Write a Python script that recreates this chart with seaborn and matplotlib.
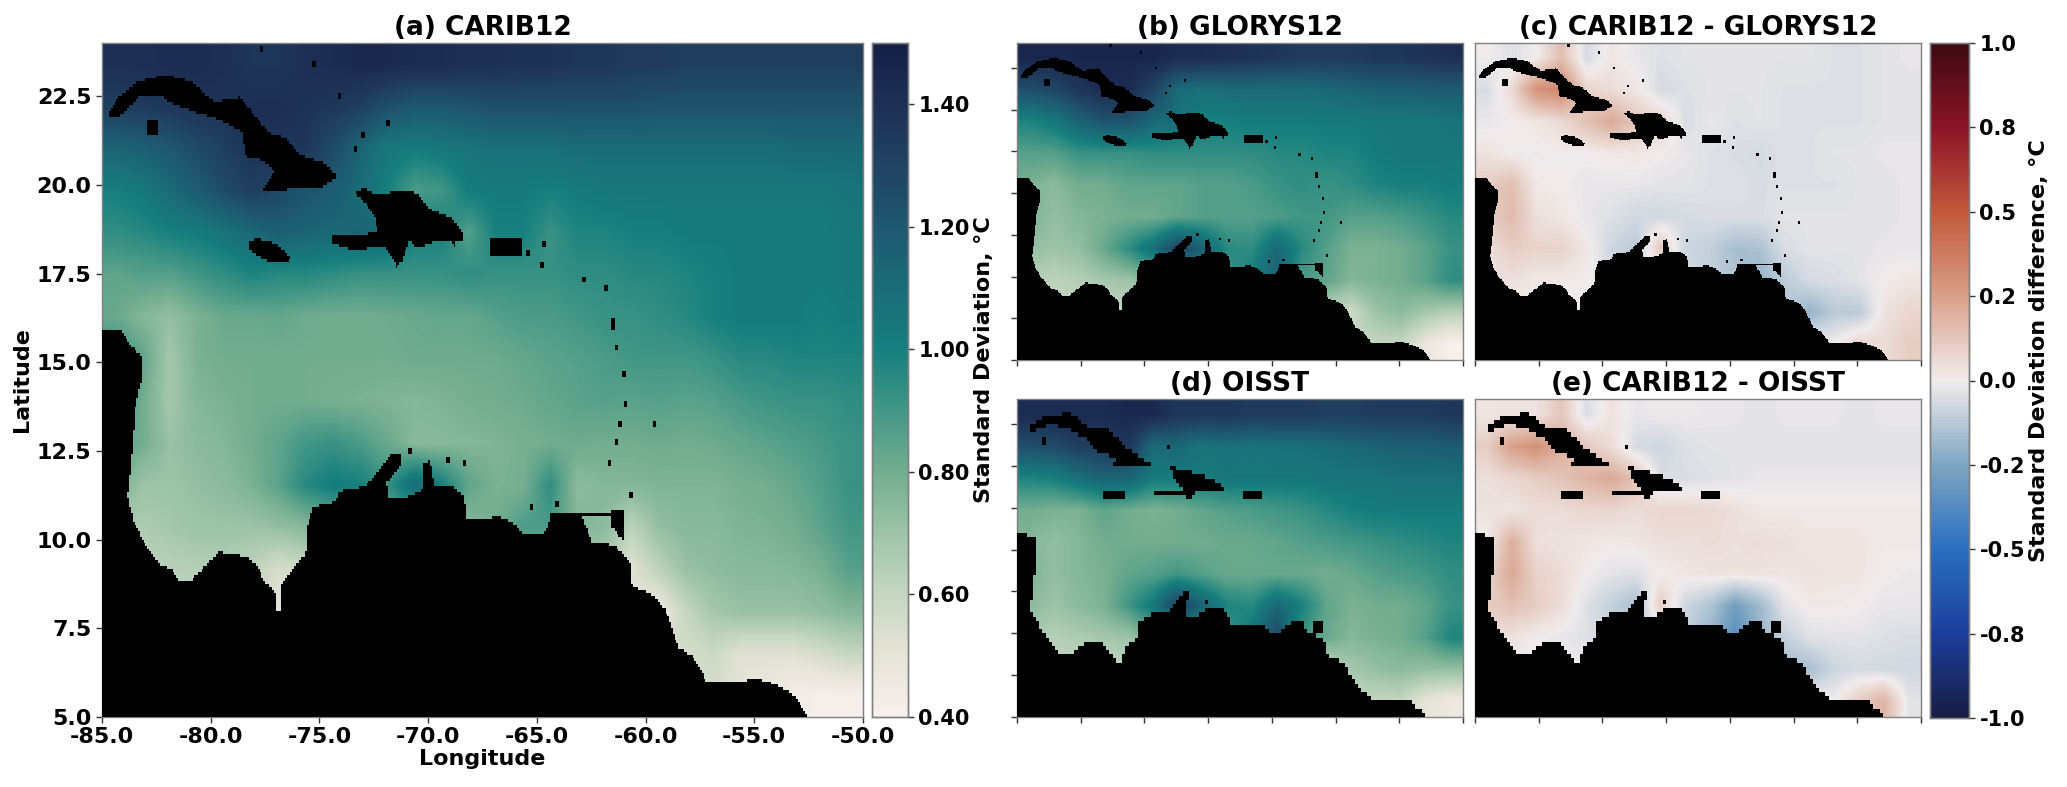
import numpy as np
import matplotlib
matplotlib.use("Agg")
import matplotlib.pyplot as plt
from matplotlib.colors import LinearSegmentedColormap, ListedColormap
from matplotlib.path import Path
import seaborn as sns

# standard deviation, north to south, land cells hold the nearest sea value
carib_a = [
    [1.40,1.40,1.42,1.42,1.40,1.36,1.36,1.40,1.42,1.44,1.44,1.42,1.42,1.40,1.40,1.38,1.38,1.36,1.36,1.34,1.34,1.32,1.32,1.32,1.32,1.32,1.32,1.32],
    [1.32,1.34,1.36,1.38,1.38,1.40,1.40,1.38,1.36,1.32,1.24,1.20,1.20,1.22,1.24,1.24,1.24,1.24,1.24,1.24,1.22,1.22,1.22,1.22,1.22,1.22,1.22,1.22],
    [1.14,1.16,1.20,1.26,1.32,1.38,1.38,1.36,1.26,1.14,1.04,1.02,1.04,1.06,1.08,1.08,1.08,1.10,1.10,1.10,1.10,1.10,1.10,1.10,1.10,1.12,1.12,1.12],
    [1.00,1.04,1.10,1.18,1.26,1.32,1.28,1.22,1.18,1.10,1.00,0.88,0.90,1.02,1.02,1.02,1.00,1.02,1.04,1.04,1.04,1.04,1.04,1.04,1.04,1.04,1.04,1.06],
    [0.94,0.96,1.00,1.02,1.06,1.12,1.16,1.14,1.12,1.14,1.10,1.00,1.00,0.86,1.00,1.00,0.92,0.98,0.98,1.00,1.00,1.02,1.02,1.02,1.02,1.02,1.02,1.04],
    [0.84,0.86,0.86,0.90,0.94,0.98,0.96,0.96,0.94,0.92,0.92,0.92,0.92,0.94,0.92,0.92,0.92,0.94,0.94,0.96,0.96,0.98,1.00,1.02,1.02,1.02,1.02,1.04],
    [0.82,0.76,0.72,0.78,0.82,0.82,0.83,0.81,0.80,0.80,0.81,0.82,0.83,0.83,0.86,0.88,0.88,0.90,0.92,0.92,0.94,0.96,1.00,1.02,1.02,1.02,1.00,1.02],
    [0.95,0.84,0.68,0.78,0.80,0.80,0.80,0.80,0.80,0.80,0.80,0.81,0.81,0.81,0.81,0.83,0.85,0.86,0.88,0.90,0.90,0.90,0.92,0.96,0.96,0.98,0.98,0.98],
    [0.95,0.80,0.68,0.76,0.78,0.80,0.80,0.80,0.79,0.78,0.77,0.76,0.77,0.79,0.80,0.81,0.83,0.85,0.86,0.85,0.86,0.85,0.86,0.89,0.91,0.92,0.92,0.94],
    [0.87,0.80,0.71,0.74,0.76,0.80,0.84,0.90,0.92,0.88,0.82,0.75,0.75,0.76,0.77,0.79,0.80,0.81,0.80,0.80,0.81,0.80,0.81,0.83,0.85,0.87,0.89,0.92],
    [0.80,0.70,0.70,0.72,0.74,0.78,0.85,0.96,1.02,1.00,0.92,1.10,1.00,0.84,0.78,0.79,0.94,0.74,0.76,0.76,0.77,0.77,0.77,0.79,0.80,0.83,0.87,0.92],
    [0.66,0.66,0.68,0.70,0.70,0.70,0.72,0.75,0.78,0.80,0.80,0.80,0.78,0.75,0.80,0.88,0.88,0.76,0.74,0.62,0.72,0.75,0.75,0.77,0.78,0.80,0.85,0.90],
    [0.62,0.62,0.63,0.64,0.65,0.62,0.55,0.58,0.60,0.62,0.64,0.66,0.68,0.70,0.72,0.72,0.72,0.70,0.64,0.52,0.62,0.71,0.73,0.75,0.75,0.76,0.79,0.86],
    [0.60,0.60,0.60,0.60,0.60,0.60,0.50,0.56,0.60,0.60,0.60,0.60,0.60,0.60,0.60,0.60,0.60,0.60,0.60,0.50,0.46,0.60,0.68,0.71,0.71,0.71,0.73,0.76],
    [0.60,0.60,0.60,0.60,0.60,0.60,0.60,0.60,0.60,0.60,0.60,0.60,0.60,0.60,0.60,0.60,0.60,0.60,0.60,0.60,0.60,0.55,0.58,0.52,0.52,0.52,0.56,0.60],
    [0.60,0.60,0.60,0.60,0.60,0.60,0.60,0.60,0.60,0.60,0.60,0.60,0.60,0.60,0.60,0.60,0.60,0.60,0.60,0.60,0.60,0.55,0.55,0.50,0.46,0.42,0.41,0.41],
]
glorys_b = [
    [1.44,1.44,1.45,1.45,1.45,1.45,1.42,1.42,1.40,1.38,1.36,1.34,1.34,1.34,1.36,1.36,1.38,1.40],
    [1.24,1.28,1.36,1.42,1.42,1.30,1.10,1.08,1.10,1.10,1.10,1.10,1.12,1.14,1.16,1.16,1.18,1.18],
    [0.98,1.04,1.14,1.22,1.22,1.12,1.08,1.00,1.00,1.02,1.02,1.02,1.02,1.02,1.04,1.04,1.04,1.06],
    [0.86,0.86,0.92,0.92,0.92,0.94,0.94,0.94,0.94,0.94,0.96,0.96,0.98,0.98,1.02,1.04,1.04,1.04],
    [0.78,0.74,0.80,0.80,0.84,0.84,0.84,0.86,0.86,0.88,0.92,0.94,0.92,0.94,0.98,1.00,1.00,1.02],
    [0.78,0.72,0.76,0.78,0.80,0.80,0.84,0.86,0.86,0.86,0.88,0.90,0.90,0.86,0.86,0.88,0.92,0.96],
    [0.72,0.70,0.72,0.82,0.94,1.08,1.30,1.14,0.96,0.94,1.12,0.96,0.86,0.78,0.78,0.80,0.85,0.92],
    [0.64,0.62,0.64,0.68,0.70,0.76,0.90,0.90,0.90,1.02,1.16,0.88,0.84,0.76,0.78,0.80,0.85,0.94],
    [0.60,0.60,0.60,0.60,0.60,0.60,0.60,0.60,0.60,0.60,0.60,0.60,0.60,0.58,0.70,0.74,0.68,0.64],
    [0.60,0.60,0.60,0.60,0.60,0.60,0.60,0.60,0.60,0.60,0.60,0.60,0.60,0.60,0.60,0.60,0.48,0.40],
]
diff_c = [
    [0.00,-0.04,0.00,0.15,-0.06,0.02,-0.02,-0.04,-0.03,-0.03,-0.03,-0.03,-0.03,-0.03,-0.04,-0.04,-0.03,-0.02],
    [-0.05,0.06,0.30,0.34,0.08,0.05,0.02,-0.06,-0.04,-0.03,-0.03,-0.03,-0.04,-0.04,-0.04,-0.04,-0.03,-0.03],
    [-0.02,0.00,0.02,0.06,0.14,0.22,0.12,0.08,-0.05,-0.02,-0.04,-0.03,-0.04,-0.04,-0.04,-0.04,-0.03,-0.03],
    [0.03,0.00,-0.01,0.00,0.00,0.01,0.02,0.00,-0.02,-0.04,-0.05,-0.06,-0.04,-0.04,-0.03,-0.03,-0.02,-0.02],
    [0.10,0.15,0.01,0.00,-0.02,-0.02,-0.02,-0.03,-0.03,-0.04,-0.04,-0.05,-0.04,-0.04,-0.04,-0.03,-0.03,-0.02],
    [0.10,0.16,0.04,0.02,-0.02,-0.04,-0.07,-0.07,-0.06,-0.05,-0.05,-0.05,-0.03,-0.03,-0.03,-0.03,-0.03,-0.02],
    [0.04,0.10,0.08,0.08,0.02,-0.08,-0.12,0.12,-0.08,-0.10,-0.16,-0.15,-0.05,-0.03,-0.03,-0.03,-0.02,-0.02],
    [0.03,0.04,0.01,0.01,0.00,-0.04,-0.05,-0.05,-0.05,-0.10,-0.14,-0.20,-0.12,-0.06,-0.05,-0.03,0.00,0.02],
    [0.00,0.00,0.00,0.00,0.00,0.00,0.00,0.00,0.00,0.00,0.00,0.00,-0.12,-0.20,-0.12,-0.12,0.03,0.07],
    [0.00,0.00,0.00,0.00,0.00,0.00,0.00,0.00,0.00,0.00,0.00,0.00,0.00,0.00,0.00,0.08,0.05,0.10],
]
oisst_d = [
    [1.42,1.42,1.42,1.42,1.44,1.44,1.36,1.36,1.36,1.34,1.34,1.34,1.32,1.32,1.34,1.34,1.34,1.36],
    [1.24,1.26,1.32,1.34,1.36,1.10,1.12,1.06,1.08,1.06,1.08,1.08,1.10,1.12,1.14,1.16,1.16,1.18],
    [0.98,1.00,1.08,1.14,1.14,1.02,1.02,1.02,1.04,1.04,1.04,1.04,1.06,1.06,1.06,1.08,1.08,1.08],
    [0.80,0.78,0.78,0.84,0.80,0.78,0.80,0.84,0.86,0.88,0.90,0.92,0.96,1.00,1.02,1.02,1.02,1.02],
    [0.76,0.72,0.76,0.80,0.80,0.80,0.80,0.80,0.82,0.82,0.84,0.86,0.88,0.90,0.92,0.94,0.96,0.98],
    [0.78,0.72,0.76,0.78,0.84,0.86,0.90,0.86,0.82,0.82,0.82,0.82,0.80,0.82,0.86,0.88,0.90,0.94],
    [0.74,0.70,0.74,0.78,0.90,1.04,1.32,1.14,0.98,0.96,1.12,1.00,0.84,0.78,0.80,0.80,0.84,0.92],
    [0.68,0.64,0.66,0.68,0.70,0.80,0.90,0.90,0.90,1.06,1.28,0.90,0.82,0.76,0.78,0.80,0.86,0.98],
    [0.60,0.60,0.60,0.60,0.60,0.60,0.60,0.60,0.60,0.60,0.60,0.60,0.60,0.68,0.72,0.74,0.72,0.72],
    [0.60,0.60,0.60,0.60,0.60,0.60,0.60,0.60,0.60,0.60,0.60,0.60,0.60,0.60,0.60,0.60,0.50,0.46],
]
diff_e = [
    [0.02,0.03,0.03,0.12,-0.05,0.03,-0.02,-0.01,-0.01,-0.02,-0.02,-0.03,-0.02,-0.02,-0.02,-0.03,-0.02,-0.02],
    [0.10,0.25,0.30,0.20,0.12,0.05,-0.06,-0.08,-0.04,-0.03,-0.03,-0.03,-0.03,-0.03,-0.03,-0.03,-0.03,-0.03],
    [0.04,0.07,0.10,0.13,0.18,0.22,0.14,-0.05,-0.05,-0.04,-0.03,-0.02,-0.02,-0.02,-0.02,-0.02,-0.02,-0.02],
    [0.03,0.02,0.05,0.05,0.07,0.07,0.05,0.07,0.07,0.06,0.04,0.01,0.01,0.01,0.01,0.01,0.01,0.01],
    [0.00,0.20,0.04,0.03,0.02,0.01,0.02,0.04,0.04,0.05,0.04,0.05,0.04,0.02,0.02,0.02,0.01,0.01],
    [0.08,0.22,0.08,0.05,0.00,-0.03,-0.04,0.00,0.02,0.03,0.03,0.03,0.02,0.03,0.02,0.02,0.00,-0.01],
    [0.10,0.14,0.10,0.05,-0.04,-0.10,-0.16,0.10,-0.08,-0.14,-0.28,-0.18,-0.03,0.01,0.01,0.00,-0.02,-0.02],
    [0.05,0.03,0.00,-0.02,-0.04,-0.08,-0.10,-0.10,-0.10,-0.20,-0.36,-0.20,-0.10,-0.04,-0.03,-0.03,-0.04,-0.05],
    [0.00,0.00,0.00,0.00,0.00,0.00,0.00,0.00,0.00,0.00,0.00,0.00,-0.18,-0.16,-0.08,-0.06,-0.07,-0.07],
    [0.00,0.00,0.00,0.00,0.00,0.00,0.00,0.00,0.00,0.00,0.00,0.00,0.00,0.00,0.00,0.10,0.18,-0.03],
]

# coastlines, as lon / lat
sa_lon = [-85.0,-84.12,-83.67,-83.17,-83.17,-83.44,-83.67,-83.82,-83.53,-82.94,-82.35,-81.76,-81.46,-80.88,-80.29,-79.61,-78.37,-77.93,-77.49,-76.99,-76.99,-76.72,-76.72,-76.16,-75.63,-75.57,-75.28,-74.25,-74.10,-72.92,-72.04,-71.68,-71.30,-71.21,-71.89,-71.83,-70.86,-70.21,-70.21,-69.92,-69.74,-68.94,-68.35,-68.20,-66.73,-66.15,-65.56,-64.67,-64.38,-62.91,-62.46,-61.43,-60.70,-60.70,-59.66,-59.08,-58.49,-57.75,-57.16,-55.83,-54.95,-53.92,-53.18,-52.53,-85.0]
sa_lat = [15.92,15.88,15.46,15.17,14.47,13.90,12.06,11.21,10.50,9.79,9.29,9.15,8.87,8.87,9.22,9.65,9.51,9.29,8.80,8.51,8.02,8.02,8.73,9.22,9.58,10.36,10.92,11.06,11.35,11.49,12.13,12.41,12.41,12.13,11.63,11.14,11.21,11.42,12.13,12.23,11.52,11.52,11.21,10.57,10.64,10.50,10.14,10.14,10.64,10.64,9.93,9.86,9.36,8.73,8.44,8.02,6.96,6.67,5.96,5.96,6.11,5.89,5.61,5.0,5.0]
cuba_lon = [-84.76,-84.26,-83.38,-82.05,-80.88,-79.84,-78.67,-78.08,-77.34,-76.60,-75.87,-74.84,-74.16,-75.04,-76.31,-77.63,-77.05,-77.63,-78.37,-78.52,-79.55,-80.88,-81.91,-82.35,-83.29,-83.97,-84.26]
cuba_lat = [21.89,22.47,22.90,23.11,22.90,22.33,22.47,22.05,21.48,21.34,20.84,20.63,20.25,19.88,19.88,19.85,20.42,20.70,20.77,21.48,21.83,22.09,22.33,22.54,22.47,22.05,21.89]
hisp_lon = [-73.36,-72.92,-72.33,-71.30,-70.56,-69.83,-68.94,-68.44,-68.44,-68.74,-68.74,-68.94,-70.12,-70.27,-70.56,-70.86,-71.21,-71.45,-71.68,-72.04,-72.77,-72.86,-73.81,-74.39,-74.45,-73.95,-72.33,-72.48,-72.77]
hisp_lat = [19.78,19.92,19.71,19.85,19.78,19.28,19.07,18.65,18.43,18.41,18.15,18.43,18.36,18.22,18.22,18.43,17.87,17.65,18.01,18.29,18.29,18.15,18.22,18.36,18.60,18.55,18.65,19.14,19.42]
jama_lon = [-78.28,-77.87,-77.05,-76.60,-76.28,-77.19,-77.63,-78.22]
jama_lat = [18.40,18.49,18.36,18.15,17.89,17.80,17.94,18.18]
pr_lon = [-67.18,-65.70,-65.70,-67.18]
pr_lat = [18.49,18.49,17.98,17.98]
youth_lon = [-82.9,-82.4,-82.4,-82.9]
youth_lat = [21.85,21.85,21.45,21.45]
trin_lon = [-61.58,-60.99,-60.99,-61.10,-61.58]
trin_lat = [10.85,10.85,10.04,10.04,10.40]
paria_lon = [-64.38,-61.6,-61.6,-64.38]
paria_lat = [10.72,10.78,10.68,10.62]
dots_lon = [-61.58,-61.58,-61.40,-61.08,-60.99,-61.23,-61.37,-61.73,-60.70,-59.61,-61.87,-62.85,-64.82,-64.67,-65.50,-73.36,-71.89,-74.10,-77.75,-64.14,-65.32,-68.35,-69.09,-70.86,-73.07,-75.28]
dots_lat = [16.19,16.05,15.49,14.68,13.90,13.30,12.77,12.17,11.28,13.26,17.13,17.41,17.77,18.39,18.15,21.05,21.79,22.54,23.85,11.07,10.97,12.20,12.27,12.52,21.48,23.42]

oi_sa_lon = [-85.0,-83.66,-83.40,-83.77,-83.93,-83.13,-81.79,-80.72,-79.66,-78.32,-76.98,-76.34,-75.38,-75.38,-74.31,-72.98,-71.91,-71.48,-71.64,-71.91,-70.84,-69.77,-68.70,-68.17,-65.49,-65.23,-64.43,-63.36,-62.55,-62.55,-61.75,-60.79,-60.58,-59.35,-58.55,-57.21,-54.27,-52.78,-85.0]
oi_sa_lat = [16.01,15.75,14.95,12.75,11.45,10.35,8.85,8.81,9.51,9.45,8.06,9.35,9.85,10.75,11.25,11.35,12.55,12.55,11.95,11.15,11.05,11.55,11.45,10.55,10.51,10.05,10.05,10.79,10.75,10.15,10.05,9.45,8.65,8.25,7.16,6.06,6.0,5.0,5.0]
oi_cuba_lon = [-84.09,-83.13,-80.99,-80.19,-79.39,-77.79,-76.45,-74.31,-77.52,-77.25,-78.90,-79.50,-80.90,-82.06,-83.13,-83.66,-84.20]
oi_cuba_lat = [22.38,22.84,23.24,22.84,22.24,22.14,21.14,20.04,20.04,20.44,20.94,21.60,22.20,22.45,22.35,22.04,22.14]
oi_hisp_lon = [-73.08,-72.17,-69.77,-68.54,-70.30,-71.11,-71.48,-71.80,-74.15,-74.15,-72.01]
oi_hisp_lat = [19.98,19.84,19.24,18.55,18.55,18.35,17.85,18.35,18.35,18.51,18.55]
oi_jama_lon = [-78.21,-76.56,-76.56,-78.21]
oi_jama_lat = [18.5,18.5,17.95,17.95]
oi_pr_lon = [-67.2,-65.76,-65.76,-67.2]
oi_pr_lat = [18.5,18.5,17.95,17.95]
oi_trin_lon = [-61.75,-60.95,-60.95,-61.75]
oi_trin_lat = [10.75,10.75,10.05,10.05]
oi_dots_lon = [-73.24,-70.04,-82.86,-82.86]
oi_dots_lat = [21.18,11.95,21.74,21.45]

lon_ticks = [-85, -80, -75, -70, -65, -60, -55, -50]
lat_ticks = [5, 7.5, 10, 12.5, 15, 17.5, 20, 22.5]
sd_ticks = [0.4, 0.6, 0.8, 1.0, 1.2, 1.4]
diff_ticks = [-1, -0.75, -0.5, -0.25, 0, 0.25, 0.5, 0.75, 1]

tempo = LinearSegmentedColormap.from_list("tempo_like", ["#f7f0ec", "#e6e4d8", "#c5d6c2", "#9dc3a8", "#73ad90", "#429785", "#177f7e", "#1a6c78", "#1e586f", "#204361", "#1e2f55", "#141f45"])
balance = LinearSegmentedColormap.from_list("balance_like", ["#181c43", "#1c3f9c", "#2a6fbf", "#7fa6c2", "#f1ecec", "#d8a08a", "#c2593a", "#8c1428", "#3c0912"])

W, H = 2067, 787


def px_axes(fig, x0, y0, x1, y1):
    return fig.add_axes([x0 / W, 1 - y1 / H, (x1 - x0) / W, (y1 - y0) / H])


def land_mask(res, polys, dlon, dlat, block):
    nx, ny = int(35 * res), int(19 * res)
    lons = -85 + (np.arange(nx) + 0.5) / res
    lats = 24 - (np.arange(ny) + 0.5) / res
    gx, gy = np.meshgrid(lons, lats)
    pts = np.column_stack([gx.ravel(), gy.ravel()])
    land = np.zeros((ny, nx), dtype=bool)
    for plon, plat in polys:
        land |= Path(list(zip(plon, plat))).contains_points(pts).reshape(ny, nx)
    for lo, la in zip(dlon, dlat):
        j = int((lo + 85) * res)
        i = int((24 - la) * res)
        land[i:i + block, j:j + block] = True
    return land


def draw_panel(ax, field, land, cmap, vmin, vmax, title, cax=None, cbar_kws=None):
    field = np.array(field)
    ny, nx = field.shape
    sns.heatmap(field, ax=ax, cmap=cmap, vmin=vmin, vmax=vmax, cbar=cax is not None, cbar_ax=cax,
                cbar_kws=cbar_kws, xticklabels=False, yticklabels=False)
    # same cells again, rendered smooth like the model fields
    ax.imshow(field, cmap=cmap, vmin=vmin, vmax=vmax, extent=(0, nx, ny, 0), aspect="auto",
              interpolation="bilinear", zorder=2)
    ax.set_xlim(0, nx)
    ax.set_ylim(ny, 0)
    ax.set_xticks([(v + 85) / 35 * nx for v in lon_ticks])
    ax.set_yticks([(24 - v) / 19 * ny for v in lat_ticks])
    for s in ax.spines.values():
        s.set_visible(True)
        s.set_color("#808080")
        s.set_linewidth(1.0)
    ax.tick_params(bottom=True, left=True, length=4, width=1, color="#333333")
    ax.set_title(title, fontsize=19, fontweight="bold", pad=6)
    # land goes on its own transparent axes because it has a finer grid
    top = ax.figure.add_axes(ax.get_position(), facecolor="none")
    sns.heatmap(land.astype(float), mask=~land, ax=top, cmap=ListedColormap(["black"]), cbar=False,
                xticklabels=False, yticklabels=False)
    top.patch.set_alpha(0)
    top.set_xticks([])
    top.set_yticks([])


sns.set_style("white")
plt.rcParams["font.family"] = ["DejaVu Sans"]
plt.rcParams["font.weight"] = "bold"
plt.rcParams["axes.labelweight"] = "bold"
plt.rcParams["text.color"] = "black"
plt.rcParams["axes.labelcolor"] = "black"
plt.rcParams["xtick.color"] = "black"
plt.rcParams["ytick.color"] = "black"

fig = plt.figure(figsize=(W / 100, H / 100), dpi=100)

fine_polys = [(sa_lon, sa_lat), (cuba_lon, cuba_lat), (hisp_lon, hisp_lat), (jama_lon, jama_lat), (pr_lon, pr_lat),
              (youth_lon, youth_lat), (trin_lon, trin_lat), (paria_lon, paria_lat)]
oi_polys = [(oi_sa_lon, oi_sa_lat), (oi_cuba_lon, oi_cuba_lat), (oi_hisp_lon, oi_hisp_lat), (oi_jama_lon, oi_jama_lat),
            (oi_pr_lon, oi_pr_lat), (oi_trin_lon, oi_trin_lat)]
land_fine = land_mask(12, fine_polys, dots_lon, dots_lat, 2)
land_oi = land_mask(4, oi_polys, oi_dots_lon, oi_dots_lat, 1)

ax_a = px_axes(fig, 102, 43, 863, 717)
cax_a = px_axes(fig, 872, 43, 908, 717)
ax_b = px_axes(fig, 1017, 43, 1463, 360)
ax_c = px_axes(fig, 1475, 43, 1921, 360)
ax_d = px_axes(fig, 1017, 399, 1463, 717)
ax_e = px_axes(fig, 1475, 399, 1921, 717)
cax_e = px_axes(fig, 1930, 43, 1969, 718)

draw_panel(ax_a, carib_a, land_fine, tempo, 0.4, 1.5, "(a) CARIB12", cax_a, {"ticks": sd_ticks, "format": "%.2f"})
draw_panel(ax_b, glorys_b, land_fine, tempo, 0.4, 1.5, "(b) GLORYS12")
draw_panel(ax_c, diff_c, land_fine, balance, -1, 1, "(c) CARIB12 - GLORYS12", cax_e, {"ticks": diff_ticks, "format": "%.1f"})
draw_panel(ax_d, oisst_d, land_oi, tempo, 0.4, 1.5, "(d) OISST")
draw_panel(ax_e, diff_e, land_oi, balance, -1, 1, "(e) CARIB12 - OISST")

ax_a.set_xticklabels([f"{v:.1f}" for v in lon_ticks], fontsize=16, rotation=0)
ax_a.set_yticklabels([f"{v:.1f}" for v in lat_ticks], fontsize=16, rotation=0)
ax_a.set_xlabel("Longitude", fontsize=16, labelpad=1)
ax_a.set_ylabel("Latitude", fontsize=16, labelpad=3)
ax_c.tick_params(left=False)
ax_e.tick_params(left=False)

for cax, label, yc in [(cax_a, "Standard Deviation, °C", 0.53), (cax_e, "Standard Deviation difference, °C", 0.545)]:
    cax.tick_params(labelsize=15, length=4, width=1, right=True, color="#333333")
    cax.set_ylabel(label, fontsize=16, fontweight="bold", labelpad=3, y=yc)
    cax.yaxis.set_label_position("right")
    for s in cax.spines.values():
        s.set_visible(True)
        s.set_color("#808080")
        s.set_linewidth(1.0)

fig.savefig("out.png", dpi=100)
